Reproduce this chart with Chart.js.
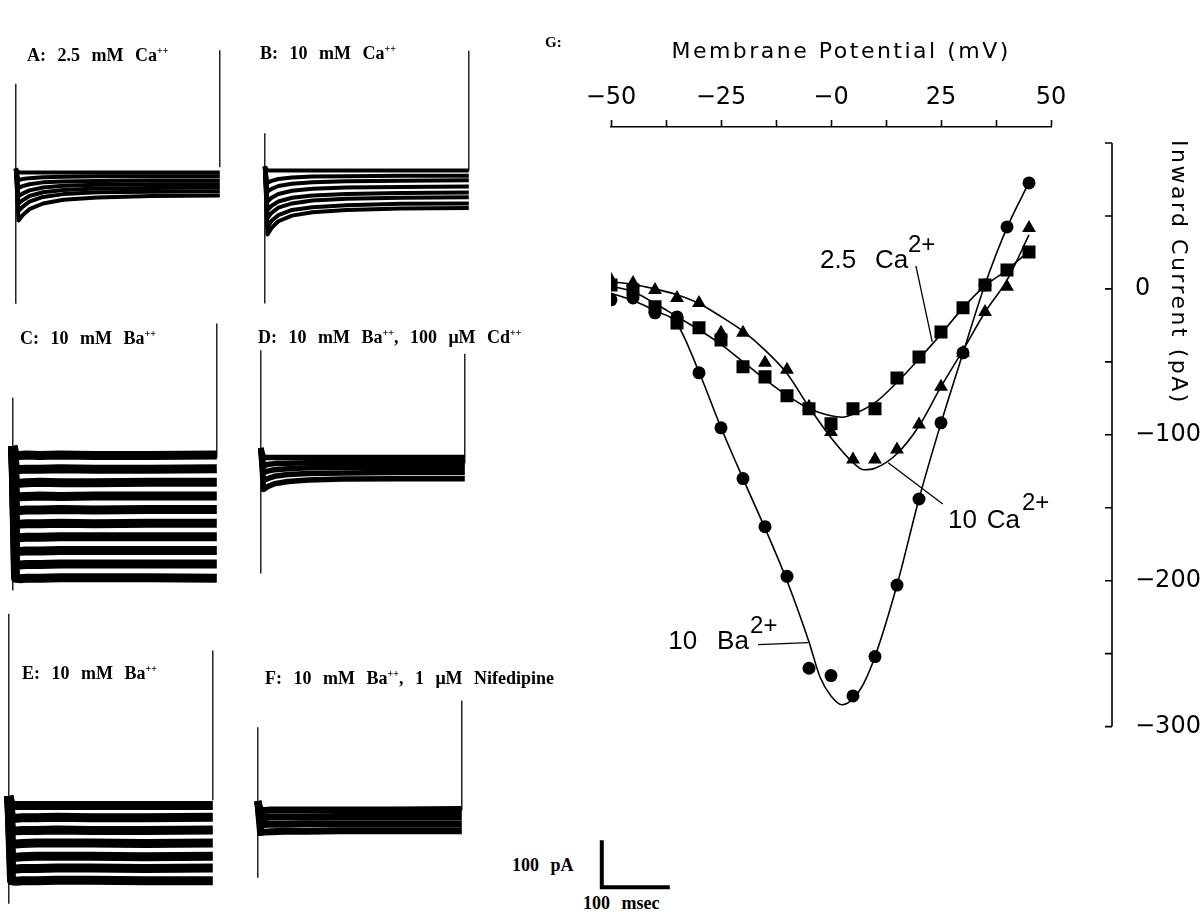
<!DOCTYPE html>
<html>
<head>
<meta charset="utf-8">
<script src="https://cdn.jsdelivr.net/npm/chart.js@4.4.1/dist/chart.umd.min.js"></script>
<style>
html,body{margin:0;padding:0;background:#fff;overflow:hidden;}
#root{position:relative;width:1202px;height:912px;overflow:hidden;}
canvas{position:absolute;}
.lbl{position:absolute;font-family:"Liberation Serif","DejaVu Serif",serif;font-weight:bold;font-size:18px;line-height:20px;word-spacing:7px;white-space:nowrap;color:#000;}
.lbl sup{font-size:10px;vertical-align:7px;line-height:0;word-spacing:0;}
</style>
</head>
<body>
<div id="root"></div>
<script>
// ================= Panel G : I-V relation =================
const VOLTAGES_MV = [-50,-45,-40,-35,-30,-25,-20,-15,-10,-5,0,5,10,15,20,25,30,35,40,45];
const BA10_PA  = [-7.5,-6.2,-16.4,-19.2,-57.5,-95.2,-130,-163,-197,-260,-265,-279,-252,-203,-144,-91.8,-43.8,2.7,42.5,72.6];
const CA10_PA  = [6.2,4.1,-0.7,-6.2,-9.6,-30,-30,-50.7,-55.5,-80.8,-98,-117,-117,-110,-93,-67,-43.8,-15.8,1.4,41.8];
const CA25_PA  = [2.7,-0.7,-12.3,-23.3,-26.7,-35,-53.4,-60.3,-73.3,-82.2,-92.5,-82.2,-82.2,-61,-46.6,-29.5,-13,2.7,13,25.3];

const BA10_FIT_MV = [-50,-45,-40,-35,-30,-25,-20,-15,-10,-5,-2.5,0,2.5,5,7.5,10,15,20,25,30,35,40,45];
const BA10_FIT_PA = [-3,-8,-15,-24,-57,-95,-130,-164,-200,-242,-266,-279,-285,-281,-270,-252,-203,-144,-92,-44,3,42,73];
const CA25_FIT_MV = [-50,-45,-40,-35,-30,-25,-20,-15,-10,-5,0,2.5,5,10,15,20,25,30,35,40,45];
const CA25_FIT_PA = [2,-2,-10,-19,-28,-38,-50,-62,-73,-82,-87,-88,-86,-78,-64,-48,-31,-13,2,13,26];
const CA10_FIT_MV = [-50,-45,-40,-35,-30,-25,-20,-15,-10,-5,0,5,7.5,10,15,20,25,30,35,40,45];
const CA10_FIT_PA = [5,3,0,-4,-10,-19,-29,-42,-58,-81,-102,-119,-124,-123,-113,-94,-67,-42,-16,6,37];

const X_TICKS = [-50,-37.5,-25,-12.5,0,12.5,25,37.5,50];
const X_TICK_LABELS = {"-50":"\u221250","-25":"\u221225","0":"\u22120","25":"25","50":"50"};
const Y_TICKS = [100,50,0,-50,-100,-150,-200,-250,-300];
const Y_TICK_LABELS = {"0":"0","-100":"\u2212100","-200":"\u2212200","-300":"\u2212300"};
const X_TITLE = "Membrane Potential (mV)";
const Y_TITLE = "Inward Current (pA)";

// ================= Panels A-F : current traces =================
const TRACE_TIMES_MS = [0,4,10,20,40,70,120,200,300];
const PANEL_A_TRACES = [
  [8,0,0,0,0,0,0,0,0],
  [8,-16,-14,-12,-10,-9,-8,-8,-8],
  [8,-33,-29,-25,-21,-19,-18,-17,-17],
  [8,-50,-45,-38,-32,-28,-26,-25,-25],
  [8,-66,-59,-50,-42,-37,-34,-33,-32],
  [8,-82,-73,-62,-52,-46,-42,-41,-40],
  [8,-102,-91,-78,-66,-58,-53,-50,-49]
];
const PANEL_B_TRACES = [
  [8,0,0,0,0,0,0,0,0],
  [8,-26,-22,-18,-15,-13,-12,-11,-11],
  [8,-45,-39,-33,-28,-25,-23,-22,-21],
  [8,-66,-58,-50,-43,-39,-36,-35,-34],
  [8,-84,-75,-66,-58,-53,-50,-48,-47],
  [8,-101,-90,-79,-70,-64,-60,-58,-57],
  [8,-120,-107,-95,-84,-78,-74,-71,-70],
  [8,-136,-122,-108,-96,-89,-84,-81,-80]
];
const PANEL_C_TRACES = [
  [20,0,0,1,0,1,0,0,1],
  [20,-29,-30,-29,-29,-28,-29,-29,-28],
  [20,-58,-59,-58,-57,-58,-58,-57,-57],
  [20,-87,-88,-87,-86,-87,-86,-86,-86],
  [20,-116,-117,-116,-116,-115,-116,-115,-115],
  [20,-145,-146,-145,-145,-144,-145,-144,-144],
  [20,-174,-175,-174,-174,-173,-173,-173,-173],
  [20,-203,-204,-203,-203,-202,-202,-202,-202],
  [20,-232,-233,-232,-232,-231,-231,-231,-231],
  [20,-261,-262,-261,-261,-260,-260,-260,-261]
];
const PANEL_D_TRACES = [
  [20,0,0,0,0,0,0,0,0],
  [20,-17,-15,-13,-12,-11,-11,-11,-11],
  [20,-32,-29,-26,-24,-22,-21,-21,-21],
  [20,-49,-45,-40,-36,-34,-33,-32,-32],
  [20,-68,-62,-56,-51,-48,-46,-45,-45]
];
const PANEL_E_TRACES = [
  [20,0,0,0,0,0,0,0,0],
  [20,-26,-27,-26,-26,-25,-26,-26,-25],
  [20,-53,-54,-53,-53,-52,-53,-53,-52],
  [20,-81,-82,-81,-80,-80,-80,-81,-80],
  [20,-109,-110,-109,-108,-108,-108,-109,-108],
  [20,-134,-135,-134,-134,-133,-133,-134,-133],
  [20,-160,-161,-160,-160,-159,-159,-160,-160]
];
const PANEL_F_TRACES = [
  [20,0,0,1,1,1,1,1,2],
  [20,-15,-15,-14,-14,-14,-13,-13,-13],
  [20,-31,-30,-29,-29,-28,-28,-28,-28],
  [20,-47,-46,-45,-44,-44,-43,-43,-43]
];
// capacitive transients [start top, start bottom, end top, end bottom] in pA
const PANEL_A_TRANSIENTS = [189,-279,260,11];
const PANEL_B_TRANSIENTS = [79,-283,255,0];
const PANEL_C_TRANSIENTS = [123,-287,281,-4];
const PANEL_D_TRANSIENTS = [228,-247,221,-13];
const PANEL_E_TRANSIENTS = [408,-209,330,11];
const PANEL_F_TRANSIENTS = [177,-143,234,0];
const PULSE_MS = 300;
const SCALE_BAR_MS = 100;
const SCALE_BAR_PA = 100;

// ================= layout =================
Chart.defaults.font.family = "'DejaVu Sans', sans-serif";
Chart.defaults.color = '#000';
const root = document.getElementById('root');
const PX_PER_MS = 0.68, PX_PER_PA = 0.47;

function addLabel(html, left, top, size){
  const d = document.createElement('div');
  d.className = 'lbl';
  d.innerHTML = html;
  d.style.left = left + 'px';
  d.style.top = top + 'px';
  if (size) d.style.fontSize = size + 'px';
  root.appendChild(d);
}
function makeCanvas(left, top, w, h){
  const c = document.createElement('canvas');
  c.width = w; c.height = h;
  c.style.left = left + 'px'; c.style.top = top + 'px';
  c.style.width = w + 'px'; c.style.height = h + 'px';
  root.appendChild(c);
  return c;
}
const baseOpts = {responsive:false, animation:false, events:[], layout:{padding:0},
  plugins:{legend:{display:false}, tooltip:{enabled:false}}};

function tracePanel(x0, y0, traces, transients, lw){
  const W = 218, H = 361, XMIN = -10, YUP = 450;
  const c = makeCanvas(x0 + XMIN*PX_PER_MS, y0 - YUP*PX_PER_PA, W, H);
  const datasets = traces.map(tr => ({
    data: tr.map((v,i) => ({x: TRACE_TIMES_MS[i], y: v})),
    showLine:true, borderColor:'#000', borderWidth:lw, pointRadius:0,
    borderJoinStyle:'round', borderCapStyle:'butt', tension:0
  }));
  datasets.push({data:[{x:0,y:transients[0]},{x:0,y:transients[1]}], showLine:true, borderColor:'#000', borderWidth:1.3, pointRadius:0});
  datasets.push({data:[{x:PULSE_MS,y:transients[2]},{x:PULSE_MS,y:transients[3]}], showLine:true, borderColor:'#000', borderWidth:1.3, pointRadius:0});
  new Chart(c, {type:'scatter', data:{datasets}, options:Object.assign({}, baseOpts, {
    scales:{
      x:{type:'linear', display:false, min:XMIN, max:XMIN + W/PX_PER_MS},
      y:{type:'linear', display:false, max:YUP, min:YUP - H/PX_PER_PA}
    }})});
}

tracePanel(16, 172, PANEL_A_TRACES, PANEL_A_TRANSIENTS, 4);
tracePanel(265, 170, PANEL_B_TRACES, PANEL_B_TRANSIENTS, 4);
tracePanel(13, 455, PANEL_C_TRACES, PANEL_C_TRANSIENTS, 9);
tracePanel(261, 457, PANEL_D_TRACES, PANEL_D_TRANSIENTS, 5.5);
tracePanel(9, 805, PANEL_E_TRACES, PANEL_E_TRANSIENTS, 9);
tracePanel(258, 810, PANEL_F_TRACES, PANEL_F_TRANSIENTS, 7);

addLabel('A: 2.5 mM Ca<sup>++</sup>', 27, 45);
addLabel('B: 10 mM Ca<sup>++</sup>', 260, 43);
addLabel('C: 10 mM Ba<sup>++</sup>', 20, 328);
addLabel('D: 10 mM Ba<sup>++</sup>, 100 \u03bcM Cd<sup>++</sup>', 258, 327);
addLabel('E: 10 mM Ba<sup>++</sup>', 22, 663);
addLabel('F: 10 mM Ba<sup>++</sup>, 1 \u03bcM Nifedipine', 265, 668);
addLabel('G:', 545, 32, 15);
addLabel('100 pA', 512, 855);
addLabel('100 msec', 583, 893);

// scale bar (drawn with same px/ms and px/pA as the traces)
(function(){
  const W = 82, H = 57, XMIN = -10, YMIN = -10;
  const c = makeCanvas(602 + XMIN*PX_PER_MS, 887 - (YMIN + H/PX_PER_PA)*PX_PER_PA, W, H);
  new Chart(c, {type:'scatter', data:{datasets:[{
    data:[{x:0,y:SCALE_BAR_PA},{x:0,y:0},{x:SCALE_BAR_MS,y:0}],
    showLine:true, borderColor:'#000', borderWidth:4, pointRadius:0, borderJoinStyle:'miter', borderCapStyle:'butt'}]},
    options:Object.assign({}, baseOpts, {scales:{
      x:{type:'linear', display:false, min:XMIN, max:XMIN + W/PX_PER_MS},
      y:{type:'linear', display:false, min:YMIN, max:YMIN + H/PX_PER_PA}}})});
})();

// ================= Panel G chart =================
const G_LEFT = 520, G_W = 682, G_H = 825;
const gCanvas = makeCanvas(G_LEFT, 0, G_W, G_H);

const ANNOTATIONS = [
  {parts:[['10',-37.0],['Ba',-25.9]], base:-246.6, sup:['2+',-18.4,-235.6], leader:[[-16.6,-243.8],[-5.2,-242.5]]},
  {parts:[['2.5',-2.5],['Ca',10.0]], base:14.4, sup:['2+',17.5,25.3], leader:[[19.3,15.8],[23.0,-36.3]]},
  {parts:[['10',26.6],['Ca',35.4]], base:-163.7, sup:['2+',43.4,-151.4], leader:[[13.0,-119.2],[25.4,-147.5]]}
];

const gDecor = {
  id:'gDecor',
  afterDraw(chart){
    const ctx = chart.ctx, xs = chart.scales.x, ys = chart.scales.y, ca = chart.chartArea;
    ctx.save();
    ctx.strokeStyle = '#000'; ctx.fillStyle = '#000';
    // right-hand current axis with inward ticks
    const ax = ca.right + 61;
    ctx.lineWidth = 1.6;
    ctx.beginPath();
    ctx.moveTo(ax, ys.getPixelForValue(Y_TICKS[0]));
    ctx.lineTo(ax, ys.getPixelForValue(Y_TICKS[Y_TICKS.length-1]));
    Y_TICKS.forEach(v => { const p = ys.getPixelForValue(v); ctx.moveTo(ax, p); ctx.lineTo(ax - 7, p); });
    ctx.stroke();
    // axis titles
    const ls = ('letterSpacing' in ctx);
    if (ls) ctx.letterSpacing = '2.5px';
    ctx.font = "22px 'DejaVu Sans'";
    ctx.textAlign = 'center'; ctx.textBaseline = 'middle';
    ctx.fillText(X_TITLE, xs.getPixelForValue(2.3), 52);
    ctx.save();
    ctx.translate(ax + 66, 140);
    ctx.rotate(Math.PI/2);
    ctx.textAlign = 'left';
    ctx.fillText(Y_TITLE, 0, 0);
    ctx.restore();
    if (ls) ctx.letterSpacing = '0px';
    // curve annotations
    ctx.textAlign = 'left'; ctx.textBaseline = 'alphabetic';
    ANNOTATIONS.forEach(a => {
      ctx.font = "26px 'Liberation Sans'";
      a.parts.forEach(p => ctx.fillText(p[0], xs.getPixelForValue(p[1]), ys.getPixelForValue(a.base)));
      ctx.font = "24px 'Liberation Sans'";
      ctx.fillText(a.sup[0], xs.getPixelForValue(a.sup[1]), ys.getPixelForValue(a.sup[2]));
      ctx.lineWidth = 1.3;
      ctx.beginPath();
      ctx.moveTo(xs.getPixelForValue(a.leader[0][0]), ys.getPixelForValue(a.leader[0][1]));
      ctx.lineTo(xs.getPixelForValue(a.leader[1][0]), ys.getPixelForValue(a.leader[1][1]));
      ctx.stroke();
    });
    ctx.restore();
  }
};

function pts(xsArr, ysArr){ return xsArr.map((v,i) => ({x:v, y:ysArr[i]})); }
const fitStyle = {showLine:true, pointRadius:0, borderColor:'#000', borderWidth:1.6, cubicInterpolationMode:'monotone', fill:false};
const markStyle = {showLine:false, backgroundColor:'#000', borderColor:'#000', borderWidth:0};

new Chart(gCanvas, {
  type:'scatter',
  data:{datasets:[
    Object.assign({label:'10 Ba fit', data:pts(BA10_FIT_MV, BA10_FIT_PA)}, fitStyle),
    Object.assign({label:'10 Ca fit', data:pts(CA10_FIT_MV, CA10_FIT_PA)}, fitStyle),
    Object.assign({label:'2.5 Ca fit', data:pts(CA25_FIT_MV, CA25_FIT_PA)}, fitStyle),
    Object.assign({label:'10 Ba2+', data:pts(VOLTAGES_MV, BA10_PA), pointStyle:'circle', pointRadius:6.5}, markStyle),
    Object.assign({label:'10 Ca2+', data:pts(VOLTAGES_MV, CA10_PA), pointStyle:'triangle', pointRadius:8}, markStyle),
    Object.assign({label:'2.5 Ca2+', data:pts(VOLTAGES_MV, CA25_PA), pointStyle:'rect', pointRadius:9.2}, markStyle)
  ]},
  options:Object.assign({}, baseOpts, {
    layout:{padding:{left:91, right:0, top:0, bottom:98}},
    scales:{
      x:{type:'linear', position:'top', min:-50, max:50,
        afterBuildTicks:s => { s.ticks = X_TICKS.map(v => ({value:v})); },
        afterFit:s => { s.height = 127; },
        ticks:{autoSkip:false, maxRotation:0, padding:8, font:{size:24, family:"'DejaVu Sans'"}, color:'#000',
          callback:v => (X_TICK_LABELS[String(v)] || '')},
        grid:{drawOnChartArea:false, drawTicks:true, tickLength:7, tickColor:'#000', tickWidth:1.6},
        border:{display:true, color:'#000', width:1.6},
        title:{display:false}
      },
      y:{type:'linear', position:'right', min:-300, max:(289-127)/1.46,
        afterBuildTicks:s => { s.ticks = Y_TICKS.map(v => ({value:v})); },
        afterFit:s => { s.width = 151; },
        ticks:{autoSkip:false, padding:84, font:{size:24, family:"'DejaVu Sans'"}, color:'#000',
          callback:v => (Y_TICK_LABELS[String(v)] || '')},
        grid:{display:false, drawTicks:false},
        border:{display:false},
        title:{display:false}
      }
    }
  }),
  plugins:[gDecor]
});
</script>
</body>
</html>
